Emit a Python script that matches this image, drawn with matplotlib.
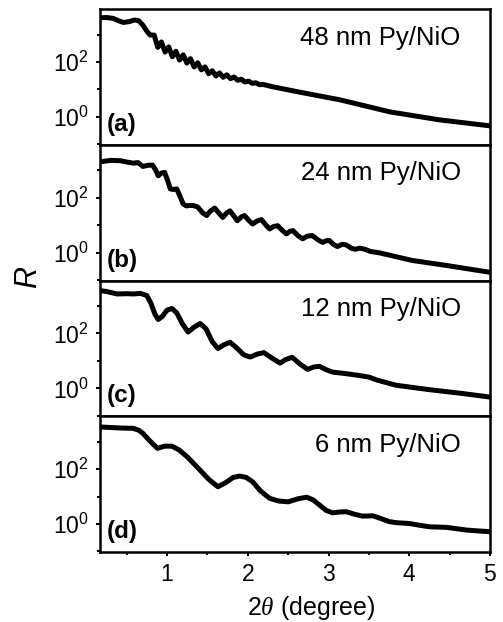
import sys
import numpy as np
import matplotlib
matplotlib.use('Agg')
import matplotlib.pyplot as plt
from matplotlib.ticker import FixedLocator, NullFormatter, MultipleLocator

# Reflectivity curves: 2theta (degree) and log10(R)
a_x = [0.17, 0.25, 0.33, 0.40, 0.46, 0.53, 0.60, 0.65, 0.70, 0.75, 0.79,
       0.84, 0.885, 0.93, 0.975, 1.02, 1.065, 1.11, 1.155, 1.20, 1.245, 1.29, 1.335,
       1.38, 1.425, 1.47, 1.515, 1.56, 1.605, 1.65, 1.695, 1.74, 1.785, 1.83, 1.875,
       1.92, 1.965, 2.01, 2.055, 2.10, 2.145, 2.19, 2.30, 2.64, 3.14, 3.76, 4.37, 5.00]
a_log = [3.61, 3.62, 3.59, 3.50, 3.44, 3.47, 3.53, 3.50, 3.34, 3.12, 2.98,
         2.98, 2.53, 2.73, 2.36, 2.55, 2.19, 2.39, 2.07, 2.26, 1.96, 2.12, 1.82,
         1.97, 1.71, 1.82, 1.57, 1.68, 1.49, 1.60, 1.44, 1.53, 1.39, 1.45, 1.33,
         1.37, 1.27, 1.30, 1.22, 1.24, 1.17, 1.18, 1.10, 0.90, 0.62, 0.18, -0.11, -0.33]

b_x = [0.17, 0.30, 0.42, 0.50, 0.58, 0.64, 0.70, 0.76, 0.82, 0.86, 0.89, 0.93, 0.97,
       1.01, 1.04, 1.08, 1.12, 1.16, 1.20, 1.24, 1.28, 1.33, 1.38, 1.44, 1.49, 1.54,
       1.59, 1.64, 1.69, 1.74, 1.78, 1.83, 1.87, 1.92, 1.96, 2.01, 2.06, 2.12, 2.17,
       2.22, 2.27, 2.32, 2.37, 2.43, 2.48, 2.52, 2.56, 2.62, 2.68, 2.74, 2.80, 2.87,
       2.93, 2.97, 3.01, 3.06, 3.11, 3.17, 3.22, 3.28, 3.33, 3.39, 3.45, 3.52, 3.63,
       4.04, 4.46, 5.00]
b_log = [3.31, 3.36, 3.35, 3.30, 3.26, 3.28, 3.14, 3.18, 3.19, 3.00, 2.80, 2.90, 2.92,
         2.60, 2.32, 2.30, 2.32, 2.05, 1.77, 1.70, 1.72, 1.71, 1.66, 1.45, 1.35, 1.52,
         1.62, 1.45, 1.28, 1.45, 1.52, 1.32, 1.16, 1.30, 1.35, 1.18, 1.04, 1.16, 1.20,
         1.02, 0.86, 0.95, 0.98, 0.80, 0.68, 0.77, 0.80, 0.62, 0.50, 0.60, 0.62, 0.46,
         0.37, 0.43, 0.44, 0.30, 0.22, 0.30, 0.28, 0.16, 0.12, 0.16, 0.12, 0.04, -0.01,
         -0.29, -0.47, -0.72]

c_x = [0.17, 0.25, 0.38, 0.50, 0.58, 0.67, 0.75, 0.80, 0.85, 0.89, 0.94, 1.00, 1.06,
       1.12, 1.19, 1.26, 1.33, 1.41, 1.48, 1.56, 1.63, 1.70, 1.78, 1.86, 1.95, 2.03,
       2.12, 2.20, 2.30, 2.40, 2.47, 2.55, 2.64, 2.74, 2.82, 2.89, 2.97, 3.05, 3.20,
       3.35, 3.50, 3.60, 3.84, 4.25, 4.66, 5.00]
c_log = [3.56, 3.53, 3.44, 3.45, 3.44, 3.46, 3.38, 3.10, 2.70, 2.51, 2.62, 2.85, 2.91,
         2.75, 2.35, 2.05, 2.22, 2.36, 2.18, 1.70, 1.45, 1.58, 1.68, 1.48, 1.22, 1.14,
         1.25, 1.30, 1.10, 0.92, 1.05, 1.13, 0.90, 0.69, 0.78, 0.80, 0.68, 0.59, 0.54,
         0.48, 0.41, 0.30, 0.11, -0.05, -0.19, -0.32]

d_x = [0.17, 0.30, 0.45, 0.58, 0.65, 0.70, 0.78, 0.88, 0.97, 1.06, 1.15, 1.25, 1.41,
       1.52, 1.63, 1.72, 1.82, 1.90, 1.98, 2.06, 2.16, 2.27, 2.38, 2.50, 2.62, 2.73,
       2.81, 2.89, 2.97, 3.05, 3.14, 3.22, 3.32, 3.42, 3.55, 3.65, 3.75, 3.84, 4.00,
       4.12, 4.25, 4.46, 4.71, 5.00]
d_log = [3.54, 3.52, 3.50, 3.49, 3.42, 3.31, 3.05, 2.76, 2.84, 2.84, 2.70, 2.45, 1.96,
         1.62, 1.36, 1.50, 1.70, 1.75, 1.70, 1.54, 1.20, 0.94, 0.84, 0.81, 0.92, 0.98,
         0.88, 0.69, 0.50, 0.41, 0.44, 0.45, 0.36, 0.29, 0.30, 0.20, 0.09, 0.05, 0.02,
         -0.04, -0.10, -0.12, -0.22, -0.28]

SAMPLES = ['48 nm Py/NiO', '24 nm Py/NiO', '12 nm Py/NiO', '6 nm Py/NiO']
PANELS = ['(a)', '(b)', '(c)', '(d)']


def main():
    plt.rcParams['font.family'] = ['Liberation Sans', 'DejaVu Sans']
    plt.rcParams['mathtext.fontset'] = 'custom'
    plt.rcParams['mathtext.rm'] = 'Liberation Sans'
    plt.rcParams['mathtext.it'] = 'Liberation Serif:italic'

    data_x = [a_x, b_x, c_x, d_x]
    data_log = [a_log, b_log, c_log, d_log]

    fig, ax_vector = plt.subplots(4, 1, sharex=True, figsize=(5.03, 6.22), dpi=100)
    fig.subplots_adjust(left=0.199, right=0.974, top=0.9855, bottom=0.1125, hspace=0)

    for i, ax in enumerate(ax_vector):
        ax.plot(data_x[i], 10 ** np.array(data_log[i]), '-', color='black',
                linewidth=3.6, solid_joinstyle='round', solid_capstyle='round')
        ax.set_yscale('log')
        ax.set_ylim(10 ** -1.02, 10 ** 3.93)
        ax.set_xlim(0.17, 5)
        ax.yaxis.set_major_locator(FixedLocator([1, 100]))
        ax.yaxis.set_minor_locator(FixedLocator([0.1, 10, 1000]))
        ax.yaxis.set_minor_formatter(NullFormatter())
        ax.xaxis.set_major_locator(MultipleLocator(1))
        ax.xaxis.set_minor_locator(MultipleLocator(0.5))
        ax.tick_params(which='both', direction='out', labelsize=16.5, width=1.5)
        ax.tick_params(which='major', length=3, pad=5)
        ax.tick_params(which='minor', length=2.5)
        for s in ax.spines.values():
            s.set_linewidth(1.8)
        ax.text(0.925, 0.79, SAMPLES[i], transform=ax.transAxes,
                ha='right', va='center', fontsize=18.5)
        ax.text(0.018, 0.15, PANELS[i], transform=ax.transAxes,
                ha='left', va='center', fontsize=17.5, fontweight='bold')

    ax_vector[-1].set_xlabel(r'2$\theta$ (degree)', fontsize=18)
    ax_vector[-1].xaxis.set_label_coords(0.541, -0.31)
    fig.text(0.056, 0.555, 'R', rotation=90, fontsize=22, fontstyle='italic',
             ha='center', va='center')

    fig.savefig('out.png', dpi=100)


if __name__ == '__main__':
    sys.exit(main())
